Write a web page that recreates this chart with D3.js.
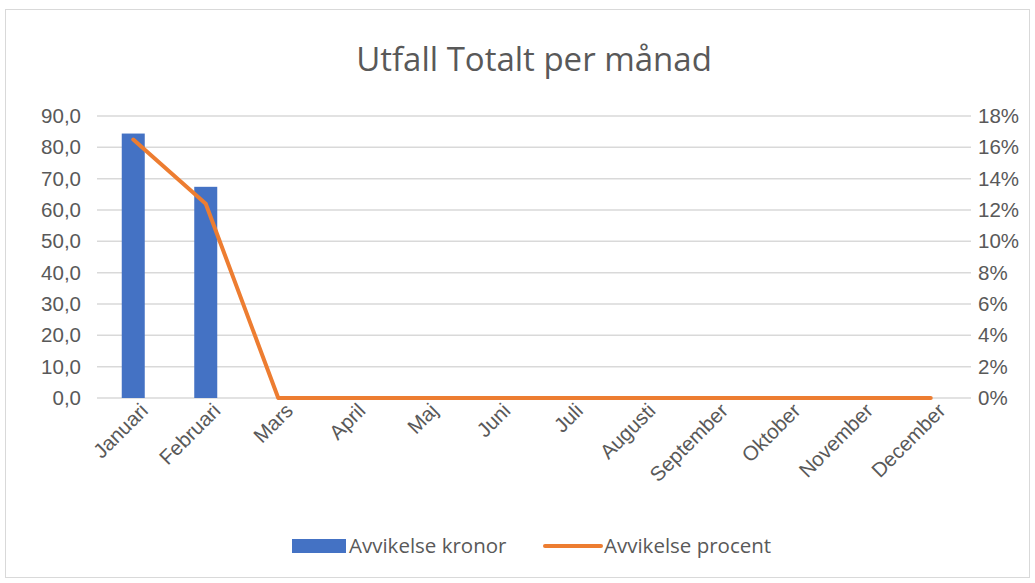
<!DOCTYPE html>
<html>
<head>
<meta charset="utf-8">
<script src="https://cdn.jsdelivr.net/npm/d3@7"></script>
<style>
  body { margin: 0; background: #fff; }
  svg { display: block; font-family: "Open Sans", sans-serif; }
</style>
</head>
<body>
<svg width="1035" height="583"></svg>
<script>
// data
var months = ['Januari', 'Februari', 'Mars', 'April', 'Maj', 'Juni', 'Juli',
  'Augusti', 'September', 'Oktober', 'November', 'December'];
var kronor = [84.4, 67.4, null, null, null, null, null, null, null, null, null, null];
var procent = [0.165, 0.124, 0, 0, 0, 0, 0, 0, 0, 0, 0, 0];
var leftTicks = [0, 10, 20, 30, 40, 50, 60, 70, 80, 90];
var rightTicks = [0, 0.02, 0.04, 0.06, 0.08, 0.10, 0.12, 0.14, 0.16, 0.18];

var svg = d3.select('svg'),
  margins = {top: 116, right: 68, bottom: 185, left: 97},
  width = 1035 - margins.left - margins.right,
  height = 583 - margins.top - margins.bottom,
  text_color = '#595959',
  grid_color = '#d9d9d9',
  font_size = 20.5;

// outer chart border
svg.append('rect')
  .attr('x', 5.5).attr('y', 9.5)
  .attr('width', 1024).attr('height', 568)
  .attr('fill', '#fff')
  .attr('stroke', '#d9d9d9');

svg.append('text')
  .attr('x', 534).attr('y', 71)
  .attr('text-anchor', 'middle')
  .attr('font-size', 33)
  .attr('fill', text_color)
  .text('Utfall Totalt per månad');

var g = svg.append('g')
  .attr('transform', 'translate(' + margins.left + ',' + margins.top + ')');

var x = d3.scaleBand().domain(months).range([0, width]);
var y = d3.scaleLinear().domain([0, 90]).range([height, 0]);
var y2 = d3.scaleLinear().domain([0, 0.18]).range([height, 0]);

// gridlines
g.selectAll('.grid')
  .data(leftTicks)
  .enter().append('line')
  .attr('x1', 0).attr('x2', width + 4)
  .attr('y1', function(d) { return y(d); })
  .attr('y2', function(d) { return y(d); })
  .attr('stroke', grid_color)
  .attr('stroke-width', 1.5);

// left axis
var yAxis = g.append('g')
  .call(d3.axisLeft(y).tickValues(leftTicks)
    .tickFormat(function(d) { return d3.format('.1f')(d).replace('.', ','); })
    .tickSize(0).tickPadding(16));
yAxis.select('.domain').remove();
yAxis.selectAll('text').attr('font-size', font_size).attr('fill', text_color).attr('font-family', null);

// right axis
var y2Axis = g.append('g')
  .attr('transform', 'translate(' + width + ',0)')
  .call(d3.axisRight(y2).tickValues(rightTicks)
    .tickFormat(d3.format('.0%'))
    .tickSize(0).tickPadding(11));
y2Axis.select('.domain').remove();
y2Axis.selectAll('text').attr('font-size', font_size).attr('fill', text_color).attr('font-family', null);

// x axis with rotated labels
var xAxis = g.append('g')
  .attr('transform', 'translate(0,' + height + ')')
  .call(d3.axisBottom(x).tickSize(0).tickPadding(0));
xAxis.select('.domain').remove();
xAxis.selectAll('text')
  .attr('font-size', font_size)
  .attr('fill', text_color)
  .attr('font-family', null)
  .attr('text-anchor', 'end')
  .attr('dy', null)
  .attr('transform', 'translate(16,14) rotate(-45)');

// bars
var barW = 23;
g.selectAll('.bar')
  .data(months.map(function(m, i) { return {m: m, v: kronor[i]}; })
    .filter(function(d) { return d.v != null; }))
  .enter().append('rect')
  .attr('x', function(d) { return x(d.m) + x.bandwidth() / 2 - barW / 2; })
  .attr('y', function(d) { return y(d.v); })
  .attr('width', barW)
  .attr('height', function(d) { return height - y(d.v); })
  .attr('fill', '#4472c4');

// line
var line = d3.line()
  .x(function(d, i) { return x(months[i]) + x.bandwidth() / 2; })
  .y(function(d) { return y2(d); });

g.append('path')
  .datum(procent)
  .attr('d', line)
  .attr('fill', 'none')
  .attr('stroke', '#ed7d31')
  .attr('stroke-width', 4)
  .attr('stroke-linecap', 'round')
  .attr('stroke-linejoin', 'round');

// legend
var legend = svg.append('g').attr('transform', 'translate(0,546)');
legend.append('rect')
  .attr('x', 292).attr('y', -7)
  .attr('width', 54).attr('height', 14)
  .attr('fill', '#4472c4');
legend.append('text')
  .attr('x', 349).attr('y', 7)
  .attr('font-size', font_size).attr('fill', text_color)
  .text('Avvikelse kronor');
legend.append('line')
  .attr('x1', 545).attr('x2', 601)
  .attr('y1', 0).attr('y2', 0)
  .attr('stroke', '#ed7d31')
  .attr('stroke-width', 4)
  .attr('stroke-linecap', 'round');
legend.append('text')
  .attr('x', 604).attr('y', 7)
  .attr('font-size', font_size).attr('fill', text_color)
  .text('Avvikelse procent');
</script>
</body>
</html>
